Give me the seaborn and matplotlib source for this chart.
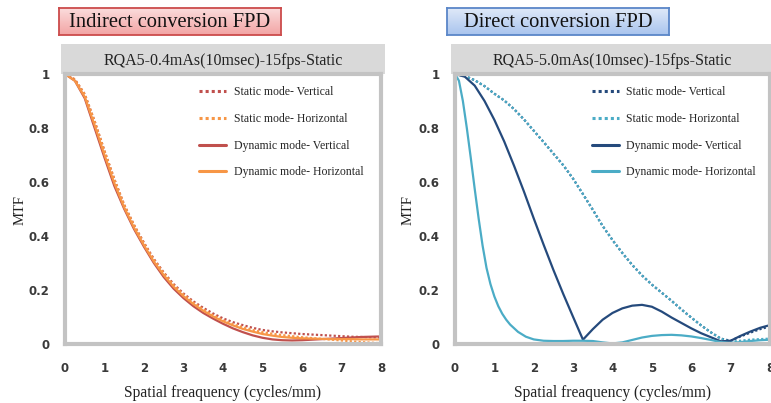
import numpy as np
import pandas as pd
import matplotlib
matplotlib.use("Agg")
import matplotlib.pyplot as plt
import seaborn as sns
from matplotlib.patches import Rectangle
from matplotlib.colors import LinearSegmentedColormap

# ---------------- data ----------------
freq = [0, 0.25, 0.5, 0.75, 1.0, 1.25, 1.5, 1.75, 2.0, 2.25, 2.5, 2.75, 3.0, 3.25,
        3.5, 3.75, 4.0, 4.25, 4.5, 4.75, 5.0, 5.25, 5.5, 5.75, 6.0, 6.25, 6.5, 6.75,
        7.0, 7.25, 7.5, 7.75, 8.0]

labels = ["Static mode- Vertical", "Static mode- Horizontal",
          "Dynamic mode- Vertical", "Dynamic mode- Horizontal"]

# Indirect conversion FPD
ind_static_v = [1.0, 0.98, 0.925, 0.825, 0.715, 0.61, 0.515, 0.44, 0.375, 0.315, 0.265,
                0.222, 0.187, 0.158, 0.134, 0.113, 0.095, 0.081, 0.07, 0.06, 0.052, 0.047,
                0.043, 0.04, 0.037, 0.035, 0.033, 0.031, 0.029, 0.027, 0.026, 0.025, 0.024]
ind_static_h = [1.0, 0.98, 0.925, 0.825, 0.715, 0.61, 0.515, 0.44, 0.372, 0.312, 0.262,
                0.218, 0.183, 0.153, 0.128, 0.106, 0.088, 0.073, 0.062, 0.052, 0.044, 0.038,
                0.033, 0.029, 0.025, 0.022, 0.019, 0.016, 0.013, 0.01, 0.007, 0.005, 0.003]
ind_dyn_v = [1.0, 0.975, 0.91, 0.8, 0.69, 0.585, 0.5, 0.425, 0.36, 0.3, 0.248, 0.205,
             0.17, 0.14, 0.115, 0.094, 0.075, 0.058, 0.044, 0.032, 0.023, 0.017, 0.014,
             0.013, 0.014, 0.016, 0.018, 0.02, 0.022, 0.024, 0.026, 0.027, 0.028]
ind_dyn_h = [1.0, 0.975, 0.915, 0.81, 0.7, 0.595, 0.505, 0.43, 0.365, 0.305, 0.255, 0.212,
             0.177, 0.148, 0.123, 0.102, 0.084, 0.069, 0.056, 0.046, 0.037, 0.031, 0.026,
             0.023, 0.021, 0.02, 0.019, 0.018, 0.018, 0.018, 0.017, 0.017, 0.017]

# Direct conversion FPD
dir_static_v = [1.0, 0.993, 0.977, 0.955, 0.927, 0.902, 0.87, 0.832, 0.79, 0.748, 0.705,
                0.662, 0.612, 0.555, 0.497, 0.437, 0.385, 0.337, 0.293, 0.254, 0.22, 0.19,
                0.16, 0.128, 0.098, 0.069, 0.043, 0.02, 0.012, 0.028, 0.042, 0.055, 0.065]
dir_static_h = [1.0, 0.993, 0.977, 0.955, 0.927, 0.902, 0.87, 0.832, 0.79, 0.748, 0.705,
                0.662, 0.612, 0.555, 0.497, 0.437, 0.385, 0.337, 0.293, 0.254, 0.22, 0.19,
                0.16, 0.128, 0.098, 0.069, 0.043, 0.02, 0.008, 0.012, 0.016, 0.018, 0.02]
dir_dyn_v = [1.0, 0.99, 0.957, 0.9, 0.83, 0.75, 0.66, 0.565, 0.465, 0.368, 0.274, 0.185,
             0.1, 0.016, 0.055, 0.09, 0.115, 0.132, 0.142, 0.145, 0.138, 0.12, 0.098,
             0.078, 0.058, 0.04, 0.025, 0.01, 0.012, 0.03, 0.046, 0.06, 0.07]
dir_dyn_h_freq = [0, 0.1, 0.2, 0.3, 0.4, 0.5, 0.6, 0.7, 0.8, 0.9, 1.0, 1.1, 1.2, 1.3, 1.4,
                  1.6, 1.8, 2.0, 2.25, 2.5, 2.75, 3.0, 3.25, 3.5, 3.75, 4.0, 4.25, 4.5,
                  4.75, 5.0, 5.25, 5.5, 5.75, 6.0, 6.25, 6.5, 6.75, 7.0, 7.25, 7.5, 7.75, 8.0]
dir_dyn_h = [1.0, 0.975, 0.9, 0.8, 0.69, 0.575, 0.465, 0.365, 0.282, 0.222, 0.176, 0.14,
             0.112, 0.09, 0.072, 0.045, 0.027, 0.017, 0.012, 0.011, 0.011, 0.012, 0.012,
             0.011, 0.006, 0.002, 0.006, 0.015, 0.024, 0.03, 0.033, 0.034, 0.032, 0.028,
             0.022, 0.015, 0.007, 0.004, 0.007, 0.011, 0.014, 0.016]

panel_titles = ["Indirect conversion FPD", "Direct conversion FPD"]
chart_titles = ["RQA5-0.4mAs(10msec)-15fps-Static", "RQA5-5.0mAs(10msec)-15fps-Static"]
x_ticks = [0, 1, 2, 3, 4, 5, 6, 7, 8]
y_ticks = [0, 0.2, 0.4, 0.6, 0.8, 1]
y_tick_labels = ["0", "0.2", "0.4", "0.6", "0.8", "1"]


def long_frame(series):
    rows = []
    for lab, xs, ys in series:
        for xv, yv in zip(xs, ys):
            rows.append((lab, xv, yv))
    return pd.DataFrame(rows, columns=["series", "freq", "mtf"])


df_ind = long_frame([(labels[0], freq, ind_static_v), (labels[1], freq, ind_static_h),
                     (labels[2], freq, ind_dyn_v), (labels[3], freq, ind_dyn_h)])
df_dir = long_frame([(labels[0], freq, dir_static_v), (labels[1], freq, dir_static_h),
                     (labels[2], freq, dir_dyn_v), (labels[3], dir_dyn_h_freq, dir_dyn_h)])

# ---------------- style ----------------
sns.set_theme(style="white")
plt.rcParams["font.family"] = ["Liberation Serif", "DejaVu Serif"]

W, H = 771, 403
fig = plt.figure(figsize=(W / 100, H / 100), dpi=100)
fig.patch.set_facecolor("white")

pal_ind = {labels[0]: "#c0504d", labels[1]: "#f79646",
           labels[2]: "#c0504d", labels[3]: "#f79646"}
pal_dir = {labels[0]: "#254a7c", labels[1]: "#4bacc6",
           labels[2]: "#254a7c", labels[3]: "#4bacc6"}
dash_map = {labels[0]: (1, 1), labels[1]: (1, 1), labels[2]: "", labels[3]: ""}


def px_axes(x0, x1, y_top, y_bot):
    return fig.add_axes([x0 / W, (H - y_bot) / H, (x1 - x0) / W, (y_bot - y_top) / H])


ax_l = px_axes(65, 381, 74, 344)
ax_r = px_axes(455, 770, 74, 344)

panels = [(ax_l, df_ind, pal_ind, 0.425, 15), (ax_r, df_dir, pal_dir, 0.435, 403)]

for i, (ax, df, pal, leg_x, ylab_x) in enumerate(panels):
    sns.lineplot(data=df, x="freq", y="mtf", hue="series", style="series",
                 hue_order=labels, style_order=labels, palette=pal, dashes=dash_map,
                 linewidth=1.6, ax=ax, sort=True, estimator=None)
    ax.set_xlim(0, 8)
    ax.set_ylim(0, 1)
    ax.set_xticks(x_ticks)
    ax.set_xticklabels([str(t) for t in x_ticks])
    ax.set_yticks(y_ticks)
    ax.set_yticklabels(y_tick_labels)
    for lab in ax.get_xticklabels() + ax.get_yticklabels():
        lab.set_fontfamily("DejaVu Sans")
        lab.set_fontweight("bold")
        lab.set_fontsize(8.5)
        lab.set_color("#3a3a3a")
    ax.tick_params(axis="x", length=0, pad=13)
    ax.tick_params(axis="y", length=0, pad=11)
    for sp in ax.spines.values():
        sp.set_visible(True)
        sp.set_color("#c3c3c3")
        sp.set_linewidth(3.0)
    ax.set_xlabel("Spatial freaquency (cycles/mm)", fontsize=11.2, color="#222222", labelpad=7)
    ax.set_ylabel("")
    ax.grid(False)

    # grey header band with chart title
    band = Rectangle((-0.012, 1.0), 1.024, 30 / 270, transform=ax.transAxes,
                     facecolor="#d9d9d9", edgecolor="none", clip_on=False, zorder=0)
    ax.add_patch(band)
    ax.text(0.5, 1.0 + 13 / 270, chart_titles[i], transform=ax.transAxes,
            ha="center", va="center", fontsize=11.5, color="#222222")

    # legend
    handles, lbls = ax.get_legend_handles_labels()
    for h in handles:
        h.set_linewidth(2.2)
    ax.legend(handles, lbls, loc="upper left", bbox_to_anchor=(leg_x, 0.955),
              frameon=False, fontsize=8.5, handlelength=2.3, handletextpad=0.6,
              labelspacing=1.25, borderpad=0, borderaxespad=0)

    # MTF label
    fig.text((ylab_x + 5) / W, (H - 210) / H, "MTF", rotation=90, ha="center",
             va="center", fontsize=10.5, color="#222222")


# panel title boxes with gradient
def title_box(x0, x1, y0, y1, c_top, c_bot, edge, text):
    bax = px_axes(x0, x1, y0, y1)
    grad = np.linspace(0, 1, 50).reshape(-1, 1)
    cmap = LinearSegmentedColormap.from_list("g", [c_top, c_bot])
    bax.imshow(grad, aspect="auto", cmap=cmap, extent=(0, 1, 0, 1), origin="upper")
    bax.set_xticks([])
    bax.set_yticks([])
    for sp in bax.spines.values():
        sp.set_visible(True)
        sp.set_color(edge)
        sp.set_linewidth(1.3)
    bax.text(0.5, 0.47, text, transform=bax.transAxes, ha="center", va="center",
             fontsize=14.8, color="#111111")


title_box(59, 281, 8, 35, "#fbdcdc", "#f2a4a4", "#cc4b4b", panel_titles[0])
title_box(447, 669, 8, 35, "#dfe9f8", "#a9c4ee", "#5a86c8", panel_titles[1])

fig.savefig("out.png", dpi=100, facecolor="white")
